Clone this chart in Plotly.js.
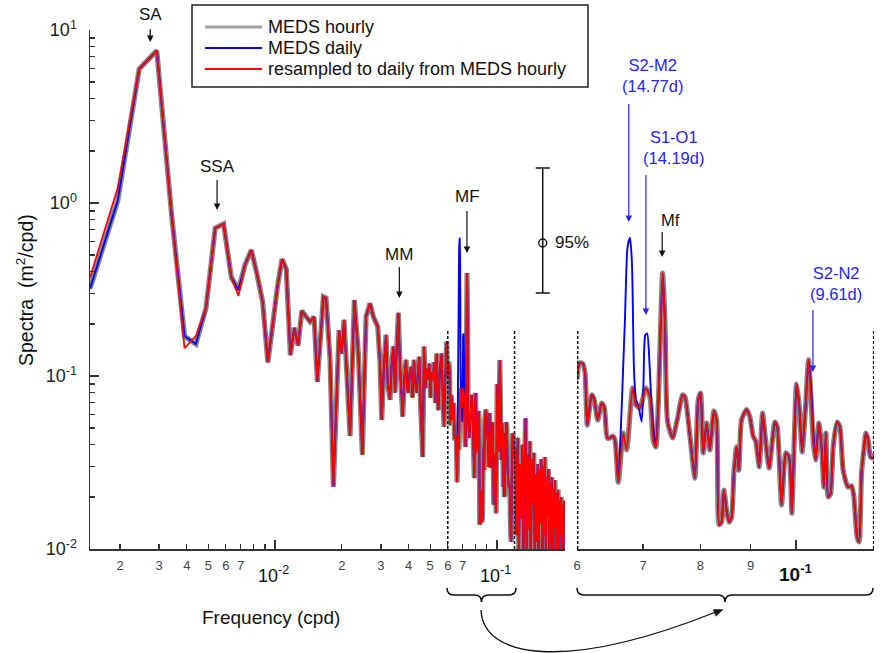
<!DOCTYPE html>
<html>
<head>
<meta charset="utf-8">
<script src="https://cdn.plot.ly/plotly-3.0.1.min.js"></script>
<style>
  html, body { margin: 0; padding: 0; background: #ffffff; }
  #chart { width: 880px; height: 653px; }
</style>
</head>
<body>
<div id="chart"></div>
<script>
// Sea-level spectra (m^2/cpd) against frequency (cpd).

// Low-frequency band, one estimate per spectral bin
const lowFreq = [0.001465, 0.001953, 0.002441, 0.002930, 0.003418, 0.003906, 0.004395, 0.004883,
  0.005371, 0.005859, 0.006348, 0.006836, 0.007324, 0.007813, 0.008301, 0.008789, 0.009277,
  0.009766, 0.010254, 0.010742, 0.011230, 0.011719, 0.012207, 0.012695];
const lowHourly = [0.32, 1.03, 5.95, 7.6, 0.85, 0.17, 0.153, 0.247, 0.716, 0.757, 0.373, 0.314,
  0.44, 0.535, 0.384, 0.268, 0.12, 0.20, 0.33, 0.474, 0.415, 0.132, 0.19, 0.15];
const lowResampled = [0.37, 1.22, 5.95, 7.6, 0.85, 0.145, 0.17, 0.247, 0.716, 0.757, 0.373, 0.29,
  0.44, 0.535, 0.384, 0.268, 0.12, 0.20, 0.33, 0.474, 0.415, 0.132, 0.19, 0.15];

// Middle band, 0.013 - 0.06 cpd
const midFreq = [0.013193, 0.01389, 0.014377, 0.014985, 0.015506, 0.016506, 0.016972, 0.017692,
  0.018308, 0.019421, 0.019974, 0.020455, 0.021768, 0.022762, 0.023725, 0.024731, 0.0257,
  0.026788, 0.027722, 0.029013, 0.0297, 0.030242, 0.0309, 0.031623, 0.0322, 0.032961, 0.0335,
  0.034111, 0.034713, 0.0353, 0.035924, 0.0366, 0.0376, 0.0383, 0.038911, 0.0394, 0.039854,
  0.0404, 0.040981, 0.0416, 0.042276, 0.0428, 0.04348, 0.0441, 0.044668, 0.0452, 0.04627,
  0.046903, 0.0476, 0.0481, 0.048529, 0.049545, 0.0502, 0.0507, 0.051333, 0.0521, 0.0528,
  0.053505, 0.054401, 0.0553, 0.056353, 0.0569, 0.057718, 0.0585, 0.059348];
const midSpec = [0.2385, 0.218, 0.206, 0.22, 0.0927, 0.287, 0.282, 0.124, 0.0229, 0.184, 0.135,
  0.211, 0.045, 0.275, 0.135, 0.035, 0.22, 0.263, 0.22, 0.193, 0.12, 0.0557, 0.11, 0.173, 0.09,
  0.0727, 0.115, 0.148, 0.08, 0.14, 0.232, 0.11, 0.0582, 0.1, 0.124, 0.085, 0.08, 0.105, 0.113,
  0.075, 0.124, 0.09, 0.08, 0.11, 0.129, 0.07, 0.034, 0.148, 0.085, 0.11, 0.0948, 0.118, 0.075,
  0.105, 0.0948, 0.12, 0.07, 0.135, 0.0635, 0.11, 0.135, 0.08, 0.051, 0.1, 0.158];

// Fortnightly band, 0.06 - 0.12 cpd (also shown enlarged)
const fortFreq = [0.0600, 0.06032, 0.0608, 0.06113, 0.06146, 0.06209, 0.06243, 0.06297, 0.06356,
  0.06395, 0.0644, 0.0648, 0.06521, 0.06556, 0.06607, 0.06684, 0.06737, 0.06832, 0.06885,
  0.06949, 0.07047, 0.07113, 0.07168, 0.07213, 0.07252, 0.07327, 0.07367, 0.07413, 0.075,
  0.07581, 0.07677, 0.07718, 0.07809, 0.07901, 0.07962, 0.08006, 0.08055, 0.08119, 0.08182,
  0.08258, 0.08311, 0.08361, 0.08408, 0.08453, 0.08507, 0.08558, 0.08606, 0.08653, 0.08707,
  0.08754, 0.08809, 0.08913, 0.08982, 0.09051, 0.09109, 0.09179, 0.09252, 0.09302, 0.09395,
  0.09521, 0.09573, 0.09671, 0.09769, 0.09844, 0.09906, 0.09953, 0.10016, 0.10077, 0.10148,
  0.10228, 0.103, 0.10363, 0.10411, 0.1047, 0.10551, 0.10618, 0.10675, 0.10725, 0.10783,
  0.10843, 0.10909, 0.11011, 0.11081, 0.11167, 0.11297, 0.11387, 0.11449, 0.11537, 0.11591,
  0.11656, 0.11719, 0.11774, 0.11837, 0.11904, 0.11977];
const fortSpec = [0.0974, 0.119, 0.118, 0.105, 0.052, 0.0777, 0.074, 0.0557, 0.0698, 0.066,
  0.0438, 0.0438, 0.045, 0.0427, 0.0243, 0.0468, 0.0374, 0.0852, 0.068, 0.0653, 0.0852, 0.076,
  0.0427, 0.0389, 0.066, 0.394, 0.21, 0.0545, 0.0438, 0.0557, 0.0777, 0.076, 0.045, 0.0257,
  0.0727, 0.0797, 0.0359, 0.0535, 0.0374, 0.0628, 0.0557, 0.0138, 0.0143, 0.0219, 0.0167,
  0.0143, 0.0152, 0.0275, 0.0389, 0.0286, 0.0557, 0.064, 0.058, 0.045, 0.0417, 0.0298, 0.0611,
  0.0466, 0.0294, 0.0542, 0.051, 0.018, 0.0359, 0.034, 0.0161, 0.0359, 0.0899, 0.068, 0.0364,
  0.066, 0.1238, 0.071, 0.0427, 0.0327, 0.0535, 0.039, 0.0228, 0.0468, 0.02, 0.0209, 0.039,
  0.0542, 0.051, 0.0286, 0.0228, 0.0232, 0.0201, 0.0117, 0.011, 0.0275, 0.0374, 0.0468, 0.0427,
  0.034, 0.0336];

// High-frequency tail, 0.12 - 0.2 cpd
const tailFreq = [0.1210, 0.1225, 0.1240, 0.1255, 0.1270, 0.1285, 0.1300, 0.1315, 0.1330, 0.1345,
  0.1360, 0.1375, 0.1390, 0.1405, 0.1420, 0.1435, 0.1450, 0.1465, 0.1480, 0.1495, 0.1510, 0.1525,
  0.1540, 0.1555, 0.1570, 0.1585, 0.1600, 0.1615, 0.1630, 0.1645, 0.1660, 0.1675, 0.1690, 0.1705,
  0.1720, 0.1735, 0.1750, 0.1765, 0.1780, 0.1795, 0.1810, 0.1825, 0.1840, 0.1855, 0.1870, 0.1885,
  0.1900, 0.1915, 0.1930, 0.1945, 0.1960, 0.1975, 0.1990, 0.2005];
const tailSpec = [0.038, 0.012, 0.044, 0.009, 0.031, 0.015, 0.040, 0.008, 0.028, 0.057, 0.010,
  0.035, 0.013, 0.042, 0.007, 0.033, 0.018, 0.036, 0.009, 0.027, 0.011, 0.031, 0.008, 0.029,
  0.014, 0.033, 0.007, 0.030, 0.012, 0.034, 0.009, 0.026, 0.016, 0.029, 0.008, 0.024, 0.011,
  0.026, 0.007, 0.022, 0.013, 0.025, 0.008, 0.021, 0.010, 0.022, 0.007, 0.019, 0.012, 0.020,
  0.008, 0.018, 0.009, 0.019];

// Daily record: aliased S2-M2 / S1-O1 and S2-N2 energy
const s2m2Freq = [0.06633, 0.0671, 0.0675, 0.0679, 0.06821, 0.06853, 0.06885, 0.06922, 0.06977,
  0.07007, 0.07036, 0.07069, 0.07103, 0.07142, 0.07197];
const s2m2Spec = [0.037, 0.21, 0.55, 0.63, 0.45, 0.11, 0.0727, 0.068, 0.0545, 0.09, 0.172, 0.176,
  0.124, 0.066, 0.0415];
const s2n2Freq = [0.10363, 0.10411];
const s2n2Spec = [0.085, 0.05];

// 95% confidence interval
const ciFreq = 0.1607, ciCentre = 0.587, ciUpper = 1.593, ciLower = 0.302;

// Constituent frequencies (cpd)
const tideNames = ['SA', 'SSA', 'MM', 'MF'];
const tideFreq = [0.002738, 0.005476, 0.036292, 0.073202];
const zoomNames = ['S2-M2<br>(14.77d)', 'S1-O1<br>(14.19d)', 'Mf', 'S2-N2<br>(9.61d)'];
const zoomFreq = [0.06771, 0.07047, 0.0732, 0.10406];

// ---------- assemble series ----------
const hourlyF = lowFreq.concat(midFreq, fortFreq, tailFreq);
const hourlyS = lowHourly.concat(midSpec, fortSpec, tailSpec);
const resampS = lowResampled.concat(midSpec, fortSpec, tailSpec);

function withAlias(f, s, segs) {
  const pts = [];
  f.forEach((x, i) => {
    if (!segs.some(g => x >= g.f[0] && x <= g.f[g.f.length - 1])) pts.push([x, s[i]]);
  });
  segs.forEach(g => g.f.forEach((x, j) => pts.push([x, g.s[j]])));
  pts.sort((a, b) => a[0] - b[0]);
  return { f: pts.map(p => p[0]), s: pts.map(p => p[1]) };
}
const daily = withAlias(hourlyF, hourlyS,
  [{ f: s2m2Freq, s: s2m2Spec }, { f: s2n2Freq, s: s2n2Spec }]);

// ---------- geometry helpers (pixel -> paper) ----------
const L = 90, R = 874, T = 30, B = 549;
const px = x => (x - L) / (R - L);
const py = y => (B - y) / (B - T);
const pathOf = pts => pts.map(c => (typeof c === 'string') ? c : (px(c[0]).toFixed(5) + ',' + py(c[1]).toFixed(5))).join(' ');

const FONT = 'Liberation Sans, Arial, sans-serif';
const BLUE = '#2323ff';

const styles = [
  { name: 'MEDS hourly', color: '#858585', width: 5.2 },
  { name: 'MEDS daily', color: '#0000ff', width: 1.9 },
  { name: 'resampled to daily from MEDS hourly', color: '#ff0000', width: 1.8 }
];
const series = [
  { f: hourlyF, s: hourlyS },
  { f: daily.f, s: daily.s },
  { f: hourlyF, s: resampS }
];

const traces = [];
[['x', 'y', 'linear'], ['x2', 'y2', 'spline']].forEach(ax => {
  series.forEach((d, i) => traces.push({
    x: d.f, y: d.s, type: 'scatter', mode: 'lines', name: styles[i].name,
    xaxis: ax[0], yaxis: ax[1], showlegend: false, hoverinfo: 'skip',
    line: { color: styles[i].color, width: styles[i].width, simplify: false,
      shape: ax[2], smoothing: 0.6 }
  }));
});
traces.push({
  x: [ciFreq], y: [ciCentre], type: 'scatter', mode: 'markers', xaxis: 'x', yaxis: 'y',
  showlegend: false, hoverinfo: 'skip',
  marker: { symbol: 'circle-open', size: 8, color: '#111', line: { width: 1.4, color: '#111' } },
  error_y: { type: 'data', symmetric: false, array: [ciUpper - ciCentre],
    arrayminus: [ciCentre - ciLower], color: '#111', thickness: 1.5, width: 7 }
});

// ---------- annotations ----------
const ann = [];
function text(x, y, t, opt) {
  ann.push(Object.assign({ xref: 'paper', yref: 'paper', x: px(x), y: py(y), text: t,
    showarrow: false, xanchor: 'center', yanchor: 'middle',
    font: { family: FONT, size: 17, color: '#111' } }, opt || {}));
}
function arrow(xref, f, tipY, tailY, color) {
  ann.push({ xref: xref, yref: 'paper', x: Math.log10(f), y: py(tipY), ax: 0, ay: tailY - tipY,
    text: ' ', font: { size: 1 }, showarrow: true, arrowhead: 2, arrowsize: 1.1, arrowwidth: 1.2,
    arrowcolor: color, standoff: 0, startstandoff: 0 });
}

// constituent labels
const tideText = [[150, 15], [217, 166], [399, 254], [467, 196]];
const tideArrow = [[42, 27], [210, 178], [298, 265], [253, 209]];
tideNames.forEach((n, i) => {
  text(tideText[i][0], tideText[i][1], n);
  arrow('x', tideFreq[i], tideArrow[i][0], tideArrow[i][1], '#111');
});
const zoomText = [[652, 75], [673, 147], [670, 220], [836, 283]];
const zoomArrow = [[222, 102], [315, 173], [257, 230], [372, 308]];
zoomNames.forEach((n, i) => {
  const col = n === 'Mf' ? '#111' : BLUE;
  text(zoomText[i][0], zoomText[i][1], n, { font: { family: FONT, size: 16.5, color: col } });
  arrow('x2', zoomFreq[i], zoomArrow[i][0], zoomArrow[i][1], col);
});

text(553, 243, '95%', { xanchor: 'left' });

// axis titles
text(271, 617, 'Frequency (cpd)', { font: { family: FONT, size: 19, color: '#111' } });
text(25, 290, 'Spectra\u00a0\u00a0(m<sup>2</sup>/cpd)', { textangle: -90,
  font: { family: FONT, size: 19.5, color: '#111' } });

// decade labels on the frequency axes
text(273, 574, '10<sup>-2</sup>', { font: { family: FONT, size: 18, color: '#111' } });
text(495, 574, '10<sup>-1</sup>', { font: { family: FONT, size: 18, color: '#111' } });
text(796, 573, '<b>10<sup>-1</sup></b>', { font: { family: FONT, size: 19, color: '#111' } });

// legend
styles.forEach((s, i) => {
  text(266, [27, 48, 69][i], s.name, { xanchor: 'left', font: { family: FONT, size: 18, color: '#111' } });
});

// ---------- shapes ----------
const shp = [];
// legend frame and samples
shp.push({ type: 'rect', xref: 'paper', yref: 'paper', x0: px(192), x1: px(588), y0: py(87), y1: py(5),
  line: { color: '#222', width: 1.5 }, fillcolor: '#ffffff', layer: 'above' });
styles.forEach((s, i) => {
  const yy = py([27, 48, 69][i]);
  shp.push({ type: 'line', xref: 'paper', yref: 'paper', x0: px(205), x1: px(262), y0: yy, y1: yy,
    line: { color: i === 0 ? '#a0a0a0' : s.color, width: i === 0 ? 3 : 2 }, layer: 'above' });
});
// dashed limits of the enlarged band
[['x', 0.06], ['x', 0.12], ['x2', 0.0601], ['x2', 0.1199]].forEach(d => {
  shp.push({ type: 'line', xref: d[0], yref: 'paper', x0: d[1], x1: d[1], y0: 0, y1: py(331),
    line: { color: '#111', width: 1.5, dash: '3px,2px' } });
});
// braces
function brace(x0, x1, yTop, yMid, yTip) {
  const m = (x0 + x1) / 2;
  return pathOf(['M', [x0, yTop], 'Q', [x0, yMid], [x0 + 7, yMid], 'L', [m - 7, yMid], 'Q', [m, yMid], [m, yTip],
    'Q', [m, yMid], [m + 7, yMid], 'L', [x1 - 7, yMid], 'Q', [x1, yMid], [x1, yTop]]);
}
shp.push({ type: 'path', xref: 'paper', yref: 'paper', path: brace(447, 516, 588, 595, 602),
  line: { color: '#111', width: 1.6 } });
shp.push({ type: 'path', xref: 'paper', yref: 'paper', path: brace(577, 873, 588, 595, 602),
  line: { color: '#111', width: 1.6 } });
// curved connector
shp.push({ type: 'path', xref: 'paper', yref: 'paper',
  path: pathOf(['M', [481, 610], 'C', [483, 658], [565, 672], [716, 612]]),
  line: { color: '#111', width: 1.3 } });
shp.push({ type: 'path', xref: 'paper', yref: 'paper',
  path: pathOf(['M', [723, 609.6], 'L', [715.9, 616.2], 'L', [713.3, 609.6], 'Z']),
  fillcolor: '#111', line: { color: '#111', width: 0.5 } });

// ---------- axes ----------
const axLine = { showline: true, linecolor: '#333', linewidth: 1.5, showgrid: false, zeroline: false,
  ticks: 'inside', tickcolor: '#333', tickwidth: 1.2, fixedrange: true };
const digitFont = { family: FONT, size: 13, color: '#444' };

const layout = {
  width: 880, height: 653,
  margin: { l: L, r: 880 - R, t: T, b: 653 - B, pad: 0 },
  paper_bgcolor: '#ffffff', plot_bgcolor: 'rgba(0,0,0,0)',
  font: { family: FONT, color: '#111' },
  showlegend: false,
  xaxis: Object.assign({}, axLine, {
    type: 'log', domain: [0, px(565)], range: [Math.log10(0.001465), Math.log10(0.2025)], anchor: 'y',
    tickmode: 'array', ticklen: 5,
    tickvals: [0.002, 0.003, 0.004, 0.005, 0.006, 0.007, 0.008, 0.009, 0.02, 0.03, 0.04, 0.05, 0.06, 0.07, 0.08, 0.09, 0.2],
    ticktext: ['2', '3', '4', '5', '6', '7', '', '', '2', '3', '4', '5', '6', '7', '', '', ''],
    tickfont: digitFont, ticklabelstandoff: 4,
    minor: { tickmode: 'array', tickvals: [0.01, 0.1], ticks: 'inside', ticklen: 9, tickwidth: 1.5, tickcolor: '#333' }
  }),
  yaxis: Object.assign({}, axLine, {
    type: 'log', domain: [0, 1], range: [-2, 1], anchor: 'x',
    tickmode: 'array', ticklen: 9, tickwidth: 1.5,
    tickvals: [0.01, 0.1, 1, 10],
    ticktext: ['10<sup>-2</sup>', '10<sup>-1</sup>', '10<sup>0</sup>', '10<sup>1</sup>'],
    tickfont: { family: FONT, size: 18, color: '#222' }, ticklabelstandoff: 8,
    minor: { tickmode: 'array', ticks: 'inside', ticklen: 5, tickwidth: 1.2, tickcolor: '#333',
      tickvals: [0.02, 0.03, 0.04, 0.05, 0.06, 0.07, 0.08, 0.09, 0.2, 0.3, 0.4, 0.5, 0.6, 0.7, 0.8, 0.9,
        2, 3, 4, 5, 6, 7, 8, 9] }
  }),
  xaxis2: Object.assign({}, axLine, {
    type: 'log', domain: [px(577), 1], range: [Math.log10(0.06), Math.log10(0.12)], anchor: 'y2',
    tickmode: 'array', ticklen: 5,
    tickvals: [0.06, 0.07, 0.08, 0.09], ticktext: ['6', '7', '8', '9'],
    tickfont: digitFont, ticklabelstandoff: 4,
    minor: { tickmode: 'array', tickvals: [0.1], ticks: 'inside', ticklen: 9, tickwidth: 1.5, tickcolor: '#333' }
  }),
  yaxis2: { type: 'log', domain: [0, 1], range: [-2, 1], anchor: 'x2', visible: false, fixedrange: true },
  annotations: ann,
  shapes: shp
};

Plotly.newPlot('chart', traces, layout, { staticPlot: true, displayModeBar: false });
</script>
</body>
</html>
